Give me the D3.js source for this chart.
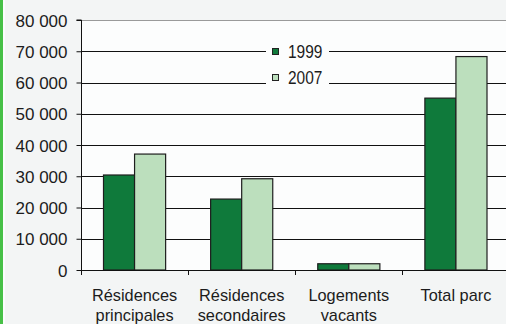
<!DOCTYPE html>
<html>
<head>
<meta charset="utf-8">
<script src="https://cdn.jsdelivr.net/npm/d3@7/dist/d3.min.js"></script>
<style>
  html, body { margin: 0; padding: 0; background: #f3f5f5; }
  svg { display: block; }
  .tick-label { font-family: "Liberation Sans", Arial, sans-serif; fill: #1c1c1c; }
</style>
</head>
<body>
<svg id="chart" width="506" height="324"></svg>
<script>
// Parc de logements, 1999 et 2007
const categories = [["Résidences", "principales"], ["Résidences", "secondaires"], ["Logements", "vacants"], ["Total parc"]];
const seriesNames = ["1999", "2007"];
const values1999 = [30400, 22700, 2000, 55000];
const values2007 = [37100, 29200, 2000, 68300];
const yTicks = [0, 10000, 20000, 30000, 40000, 50000, 60000, 70000, 80000];
const yTickLabels = ["0", "10 000", "20 000", "30 000", "40 000", "50 000", "60 000", "70 000", "80 000"];
const colors = ["#0f7a3b", "#bcdfbd"];

const svg = d3.select("#chart");
const W = 506, H = 324;
const plotLeft = 81, plotRight = 509.5, plotTop = 20, plotBottom = 270;
const narrow = 0.96; // slight horizontal squeeze for the category labels

const keys = categories.map(c => c.join(" "));
const x = d3.scaleBand().domain(keys).range([plotLeft, plotRight]).paddingInner(0).paddingOuter(0);
const x1 = d3.scaleBand().domain(seriesNames).range([22.5, x.bandwidth() - 22.5]);
const y = d3.scaleLinear().domain([0, 80000]).range([plotBottom, plotTop]);

// left accent stripe
svg.append("rect").attr("x", 0).attr("y", 0).attr("width", 3).attr("height", H).attr("fill", "#47c047");
svg.append("rect").attr("x", 3).attr("y", 0).attr("width", 2).attr("height", H).attr("fill", "#fbfcfc");

// plot area
svg.append("rect").attr("x", plotLeft).attr("y", plotTop).attr("width", W - plotLeft).attr("height", plotBottom - plotTop).attr("fill", "#fcfdfd");

// gridlines
svg.append("g").selectAll("line").data(yTicks.filter(t => t > 0 && t < 80000)).join("line")
  .attr("x1", plotLeft).attr("x2", W)
  .attr("y1", d => Math.round(y(d)) + 0.5).attr("y2", d => Math.round(y(d)) + 0.5)
  .attr("stroke", "#111").attr("stroke-width", 1);
// top border of plot
svg.append("line").attr("x1", plotLeft).attr("x2", W).attr("y1", plotTop + 0.5).attr("y2", plotTop + 0.5)
  .attr("stroke", "#9a9a9a").attr("stroke-width", 1.2);

// legend
const legend = svg.append("g");
legend.append("rect").attr("x", 266).attr("y", 42).attr("width", 63).attr("height", 46).attr("fill", "#fcfdfd");
const legY = [y(70000), y(60000) - 5.5];
seriesNames.forEach((s, i) => {
  const cy = legY[i];
  legend.append("rect").attr("x", 272.5).attr("y", Math.round(cy - 3.5) + 0.5).attr("width", 6).attr("height", 6)
    .attr("fill", colors[i]).attr("stroke", "#222").attr("stroke-width", 1);
  legend.append("text").attr("class", "tick-label")
    .attr("transform", `translate(288,${cy + 6.5}) scale(0.86,1)`)
    .attr("font-size", 18).text(s);
});

// bars
const data = keys.map((k, i) => ({ key: k, vals: [values1999[i], values2007[i]] }));
const groups = svg.append("g").selectAll("g").data(data).join("g")
  .attr("transform", d => `translate(${x(d.key)},0)`);
groups.selectAll("rect").data(d => d.vals.map((v, j) => ({ s: seriesNames[j], v, j }))).join("rect")
  .attr("x", d => x1(d.s))
  .attr("y", d => y(d.v))
  .attr("width", x1.bandwidth())
  .attr("height", d => y(0) - y(d.v))
  .attr("fill", d => colors[d.j])
  .attr("stroke", "#1e1e1e").attr("stroke-width", 1.2);

// y axis
const yAxis = d3.axisLeft(y).tickValues(yTicks).tickSize(5).tickFormat((d, i) => yTickLabels[i]);
const gy = svg.append("g").attr("transform", `translate(${plotLeft + 0.5},0)`).call(yAxis);
gy.select(".domain").attr("stroke", "#111").attr("d", `M-5,${plotTop}H0V${plotBottom + 5}`);
gy.selectAll(".tick line").attr("stroke", "#111");
gy.selectAll(".tick text").attr("class", "tick-label").attr("font-size", 17)
  .attr("x", -14).attr("dy", "0.36em");

// x axis
svg.append("line").attr("x1", plotLeft).attr("x2", W).attr("y1", plotBottom + 0.5).attr("y2", plotBottom + 0.5)
  .attr("stroke", "#111");
svg.append("g").selectAll("line").data(keys.slice(1)).join("line")
  .attr("x1", d => Math.round(x(d)) + 0.5).attr("x2", d => Math.round(x(d)) + 0.5)
  .attr("y1", plotBottom).attr("y2", plotBottom + 5).attr("stroke", "#111");

const labels = svg.append("g").selectAll("text").data(categories).join("text")
  .attr("class", "tick-label").attr("font-size", 17).attr("text-anchor", "middle")
  .attr("transform", (d, i) => `translate(${x(keys[i]) + x.bandwidth() / 2},0) scale(${narrow},1)`);
labels.selectAll("tspan").data(d => d).join("tspan")
  .attr("x", 0).attr("y", (d, i) => 301.5 + i * 19.5).text(d => d);
</script>
</body>
</html>
